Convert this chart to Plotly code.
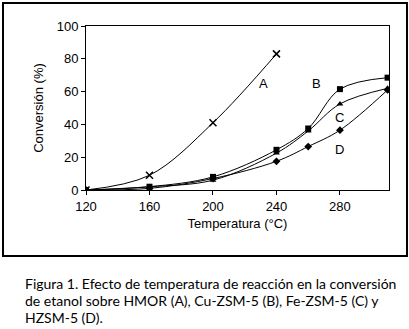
import plotly.graph_objects as go

# ---- data ----
temps_A = [120, 160, 200, 240]
conv_A = [0, 9, 41, 83]
temps = [120, 160, 200, 240, 260, 280, 310]
conv_B = [0, 2, 8, 24.5, 37.5, 61.5, 68.5]
conv_C = [0, 2, 6, 22.5, 36, 52.5, 62]
conv_D = [0, 1, 7, 17.5, 26.5, 36.5, 61]
series_labels = ["A", "B", "C", "D"]
label_x = [232, 265, 280, 280]
label_y = [65, 65, 44, 25]
x_ticks = [120, 160, 200, 240, 280]
y_ticks = [0, 20, 40, 60, 80, 100]
caption_lines = [
    "Figura 1. Efecto de temperatura de reacción en la conversión",
    "de etanol sobre HMOR (A), Cu-ZSM-5 (B), Fe-ZSM-5 (C) y",
    "HZSM-5 (D).",
]

W, H = 409, 329
FL, FR, FT, FB = 4, 406, 4, 255      # outer frame pixels
L, R, T, B = 86, 389, 26, 190        # plot area pixels


def px(x):
    return (x - FL) / (FR - FL)


def py(y):
    return (FB - y) / (FB - FT)


fig = go.Figure()
# invisible trace on the frame axes so they are drawn (first subplot, underneath)
fig.add_trace(go.Scatter(x=[0], y=[0], xaxis="x2", yaxis="y2", mode="markers",
                         marker=dict(opacity=0), hoverinfo="skip"))
line = dict(color="black", width=1, shape="spline", smoothing=1)
fig.add_trace(go.Scatter(x=temps_A, y=conv_A, mode="lines+markers", line=line,
                         marker=dict(symbol="x-thin-open", size=7, color="black",
                                     line=dict(width=1.5, color="black"))))
fig.add_trace(go.Scatter(x=temps, y=conv_B, mode="lines+markers", line=line,
                         marker=dict(symbol="square", size=6, color="black")))
fig.add_trace(go.Scatter(x=temps, y=conv_C, mode="lines+markers", line=line,
                         marker=dict(symbol="triangle-up", size=6, color="black")))
fig.add_trace(go.Scatter(x=temps, y=conv_D, mode="lines+markers", line=line,
                         marker=dict(symbol="diamond", size=6, color="black")))

for lab, lx, ly in zip(series_labels, label_x, label_y):
    fig.add_annotation(x=lx, y=ly, text=lab, showarrow=False,
                       font=dict(family="Liberation Sans, Arial", size=13, color="black"))

caption_y = [273, 290, 307]
for txt, cy in zip(caption_lines, caption_y):
    fig.add_annotation(xref="paper", yref="paper", x=px(23), y=py(cy), text=txt,
                       showarrow=False, xanchor="left", yanchor="top",
                       font=dict(family="Lato", size=14, color="black"))

axis_font = dict(family="Liberation Sans, Arial", size=13, color="black")
fig.update_layout(
    width=W, height=H,
    margin=dict(l=FL, r=W - FR, t=FT, b=H - FB, autoexpand=False),
    paper_bgcolor="white", plot_bgcolor="rgba(0,0,0,0)",
    showlegend=False,
    xaxis=dict(domain=[px(L), px(R)], anchor="y", automargin=False,
               range=[120, 310.9], tickvals=x_ticks, showgrid=False, zeroline=False,
               showline=True, linecolor="black", linewidth=1, mirror=True,
               ticks="outside", ticklen=4, tickcolor="black", tickfont=axis_font,
               title=dict(text="Temperatura (°C)", font=axis_font, standoff=6)),
    yaxis=dict(domain=[py(B), py(T)], anchor="x", automargin=False,
               range=[0, 100], tickvals=y_ticks, showgrid=False, zeroline=False,
               showline=True, linecolor="black", linewidth=1, mirror=True,
               ticks="outside", ticklen=4, tickcolor="black", tickfont=axis_font,
               title=dict(text="Conversión (%)", font=axis_font, standoff=10)),
    xaxis2=dict(domain=[0, 1], anchor="y2", range=[0, 1], showgrid=False,
                automargin=False,
                zeroline=False, showticklabels=False, ticks="",
                showline=True, linecolor="black", linewidth=1.5, mirror=True),
    yaxis2=dict(domain=[0, 1], anchor="x2", range=[0, 1], showgrid=False,
                automargin=False,
                zeroline=False, showticklabels=False, ticks="",
                showline=True, linecolor="black", linewidth=1.5, mirror=True),
)

fig.write_html("out.html", config={"displayModeBar": False},
               post_script="document.body.style.margin='0px';")
